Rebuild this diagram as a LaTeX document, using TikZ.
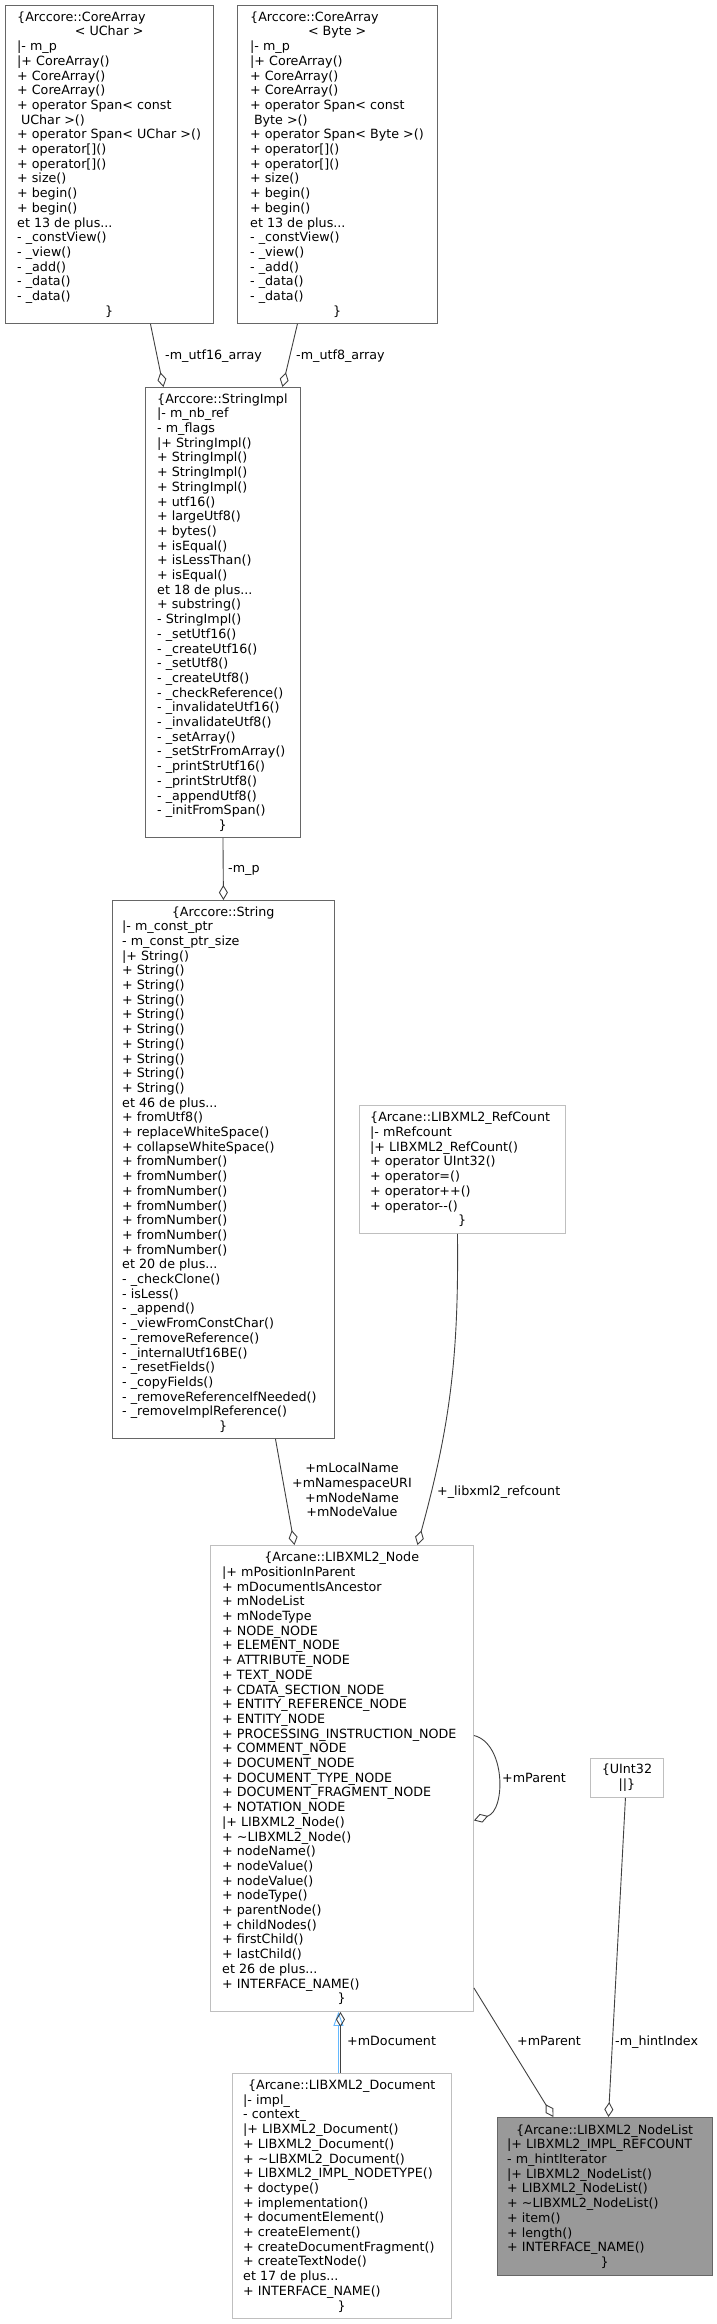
\documentclass[tikz,border=0pt]{standalone}
\usepackage{fontspec}
\setmainfont{DejaVu Sans}
\usetikzlibrary{arrows.meta}
\definecolor{edgegray}{HTML}{404040}
\definecolor{darkline}{HTML}{666666}
\definecolor{lightline}{HTML}{BFBFBF}
\definecolor{curfill}{HTML}{999999}
\definecolor{inhblue}{HTML}{63B8FF}
% centred line inside a left aligned member list
\newcommand\ctrd[2]{\hspace*{#1pt}\makebox[0pt]{#2}}

\begin{document}
\begin{tikzpicture}[x=1pt,y=-1pt,
font=\fontsize{12.7}{14.7}\selectfont,
clsbox/.style={line width=0.9pt,inner sep=0pt,anchor=north west},
darkbox/.style={clsbox,draw=darkline},
lightbox/.style={clsbox,draw=lightline},
members/.style={align=left,inner sep=0pt,anchor=west},
link/.style={draw=edgegray,line width=0.9pt,
-{Diamond[open,length=15pt,width=9pt]}},
inherit/.style={draw=inhblue,line width=0.9pt,
-{Triangle[open,length=14pt,width=10pt]}},
lbl/.style={inner sep=0pt,anchor=base west}]
\useasboundingbox (0,0) rectangle (717,2324);

% class boxes
\node[darkbox,minimum width=208pt,minimum height=318pt]
(ca16) at (5,5) {};
\node[darkbox,minimum width=200pt,minimum height=318pt]
(ca8) at (237,5) {};
\node[darkbox,minimum width=155pt,minimum height=450pt]
(si) at (145,387) {};
\node[darkbox,minimum width=222pt,minimum height=538pt]
(str) at (112,900) {};
\node[lightbox,minimum width=206pt,minimum height=128pt]
(rc) at (359,1105) {};
\node[lightbox,minimum width=263pt,minimum height=466pt]
(nd) at (210,1545) {};
\node[lightbox,minimum width=73pt,minimum height=39pt]
(ui) at (590,1758) {};
\node[lightbox,minimum width=219pt,minimum height=245pt]
(doc) at (232,2073) {};
\node[clsbox,draw=darkline,fill=curfill,
minimum width=215pt,minimum height=158pt]
(nl) at (497,2117) {};

% member lists
\node[members] (ca16t) at ([xshift=12pt]ca16.west)
{\{Arccore::CoreArray\\
\ctrd{92}{< UChar >}\\
|- m\_p\\
|+ CoreArray()\\
+ CoreArray()\\
+ CoreArray()\\
+ operator Span< const\\
\hspace*{0.3em}UChar >()\\
+ operator Span< UChar >()\\
+ operator[]()\\
+ operator[]()\\
+ size()\\
+ begin()\\
+ begin()\\
et 13 de plus...\\
- \_constView()\\
- \_view()\\
- \_add()\\
- \_data()\\
- \_data()\\
\ctrd{92}{\}}};
\node[members] (ca8t) at ([xshift=13pt]ca8.west)
{\{Arccore::CoreArray\\
\ctrd{87}{< Byte >}\\
|- m\_p\\
|+ CoreArray()\\
+ CoreArray()\\
+ CoreArray()\\
+ operator Span< const\\
\hspace*{0.3em}Byte >()\\
+ operator Span< Byte >()\\
+ operator[]()\\
+ operator[]()\\
+ size()\\
+ begin()\\
+ begin()\\
et 13 de plus...\\
- \_constView()\\
- \_view()\\
- \_add()\\
- \_data()\\
- \_data()\\
\ctrd{87}{\}}};
\node[members] (sit) at ([xshift=12pt]si.west)
{\{Arccore::StringImpl\\
|- m\_nb\_ref\\
- m\_flags\\
|+ StringImpl()\\
+ StringImpl()\\
+ StringImpl()\\
+ StringImpl()\\
+ utf16()\\
+ largeUtf8()\\
+ bytes()\\
+ isEqual()\\
+ isLessThan()\\
+ isEqual()\\
et 18 de plus...\\
+ substring()\\
- StringImpl()\\
- \_setUtf16()\\
- \_createUtf16()\\
- \_setUtf8()\\
- \_createUtf8()\\
- \_checkReference()\\
- \_invalidateUtf16()\\
- \_invalidateUtf8()\\
- \_setArray()\\
- \_setStrFromArray()\\
- \_printStrUtf16()\\
- \_printStrUtf8()\\
- \_appendUtf8()\\
- \_initFromSpan()\\
\ctrd{65.5}{\}}};
\node[members] (strt) at ([xshift=10pt]str.west)
{\ctrd{101}{\{Arccore::String}\\
|- m\_const\_ptr\\
- m\_const\_ptr\_size\\
|+ String()\\
+ String()\\
+ String()\\
+ String()\\
+ String()\\
+ String()\\
+ String()\\
+ String()\\
+ String()\\
+ String()\\
et 46 de plus...\\
+ fromUtf8()\\
+ replaceWhiteSpace()\\
+ collapseWhiteSpace()\\
+ fromNumber()\\
+ fromNumber()\\
+ fromNumber()\\
+ fromNumber()\\
+ fromNumber()\\
+ fromNumber()\\
+ fromNumber()\\
et 20 de plus...\\
- \_checkClone()\\
- isLess()\\
- \_append()\\
- \_viewFromConstChar()\\
- \_removeReference()\\
- \_internalUtf16BE()\\
- \_resetFields()\\
- \_copyFields()\\
- \_removeReferenceIfNeeded()\\
- \_removeImplReference()\\
\ctrd{101}{\}}};
\node[members] (rct) at ([xshift=11pt]rc.west)
{\{Arcane::LIBXML2\_RefCount\\
|- mRefcount\\
|+ LIBXML2\_RefCount()\\
+ operator UInt32()\\
+ operator=()\\
+ operator++()\\
+ operator-{}-()\\
\ctrd{92}{\}}};
\node[members] (ndt) at ([xshift=12pt]nd.west)
{\ctrd{119.5}{\{Arcane::LIBXML2\_Node}\\
|+ mPositionInParent\\
+ mDocumentIsAncestor\\
+ mNodeList\\
+ mNodeType\\
+ NODE\_NODE\\
+ ELEMENT\_NODE\\
+ ATTRIBUTE\_NODE\\
+ TEXT\_NODE\\
+ CDATA\_SECTION\_NODE\\
+ ENTITY\_REFERENCE\_NODE\\
+ ENTITY\_NODE\\
+ PROCESSING\_INSTRUCTION\_NODE\\
+ COMMENT\_NODE\\
+ DOCUMENT\_NODE\\
+ DOCUMENT\_TYPE\_NODE\\
+ DOCUMENT\_FRAGMENT\_NODE\\
+ NOTATION\_NODE\\
|+ LIBXML2\_Node()\\
+ \textasciitilde LIBXML2\_Node()\\
+ nodeName()\\
+ nodeValue()\\
+ nodeValue()\\
+ nodeType()\\
+ parentNode()\\
+ childNodes()\\
+ firstChild()\\
+ lastChild()\\
et 26 de plus...\\
+ INTERFACE\_NAME()\\
\ctrd{119.5}{\}}};
\node[align=center,inner sep=0pt] (uit) at (ui.center)
{\{UInt32\\||\}};
\node[members] (doct) at ([xshift=11pt]doc.west)
{\ctrd{98.5}{\{Arcane::LIBXML2\_Document}\\
|- impl\_\\
- context\_\\
|+ LIBXML2\_Document()\\
+ LIBXML2\_Document()\\
+ \textasciitilde LIBXML2\_Document()\\
+ LIBXML2\_IMPL\_NODETYPE()\\
+ doctype()\\
+ implementation()\\
+ documentElement()\\
+ createElement()\\
+ createDocumentFragment()\\
+ createTextNode()\\
et 17 de plus...\\
+ INTERFACE\_NAME()\\
\ctrd{98.5}{\}}};
\node[members] (nlt) at ([xshift=10pt]nl.west)
{\ctrd{97.5}{\{Arcane::LIBXML2\_NodeList}\\
|+ LIBXML2\_IMPL\_REFCOUNT\\
- m\_hintIterator\\
|+ LIBXML2\_NodeList()\\
+ LIBXML2\_NodeList()\\
+ \textasciitilde LIBXML2\_NodeList()\\
+ item()\\
+ length()\\
+ INTERFACE\_NAME()\\
\ctrd{97.5}{\}}};

% usage links
\draw[link] ([xshift=41pt]ca16.south) -- ([xshift=-59.5pt]si.north);
\draw[link] ([xshift=-40pt]ca8.south) -- ([xshift=59.5pt]si.north);
\draw[link] (si.south) -- (str.north);
\draw[link] ([xshift=52pt]str.south) -- ([xshift=-47.5pt]nd.north);
\draw[link] ([xshift=-5pt]rc.south) to[bend left=8] ([xshift=75.5pt]nd.north);
\draw[link] ([yshift=43pt]nd.east) .. controls +(32,8) and +(32,-10)
.. ([yshift=-42pt]nd.east);
\draw[inherit] ([xshift=-3.5pt]doc.north) -- ([xshift=-3.5pt]nd.south);
\draw[link] ([xshift=-1.5pt]doc.north) -- ([xshift=-1.5pt]nd.south);
\draw[link] ([yshift=24pt]nd.south east) -- ([xshift=-51.5pt]nl.north);
\draw[link] ([xshift=-1.5pt]ui.south) -- ([xshift=3.5pt]nl.north);

% link labels
\node[lbl] (lutf16) at (165,359) {-m\_utf16\_array};
\node[lbl] (lutf8) at (296,359) {-m\_utf8\_array};
\node[lbl] (lmp) at (228,872) {-m\_p};
\node[align=center,inner sep=0pt] (lnames) at (352,1490)
{+mLocalName\\+mNamespaceURI\\+mNodeName\\+mNodeValue};
\node[lbl] (lrefc) at (437,1495) {+\_libxml2\_refcount};
\node[lbl] (lpar1) at (502,1782) {+mParent};
\node[lbl] (ldoc) at (347,2045) {+mDocument};
\node[lbl] (lpar2) at (517,2045) {+mParent};
\node[lbl] (lhint) at (615,2045) {-m\_hintIndex};
\end{tikzpicture}
\end{document}
